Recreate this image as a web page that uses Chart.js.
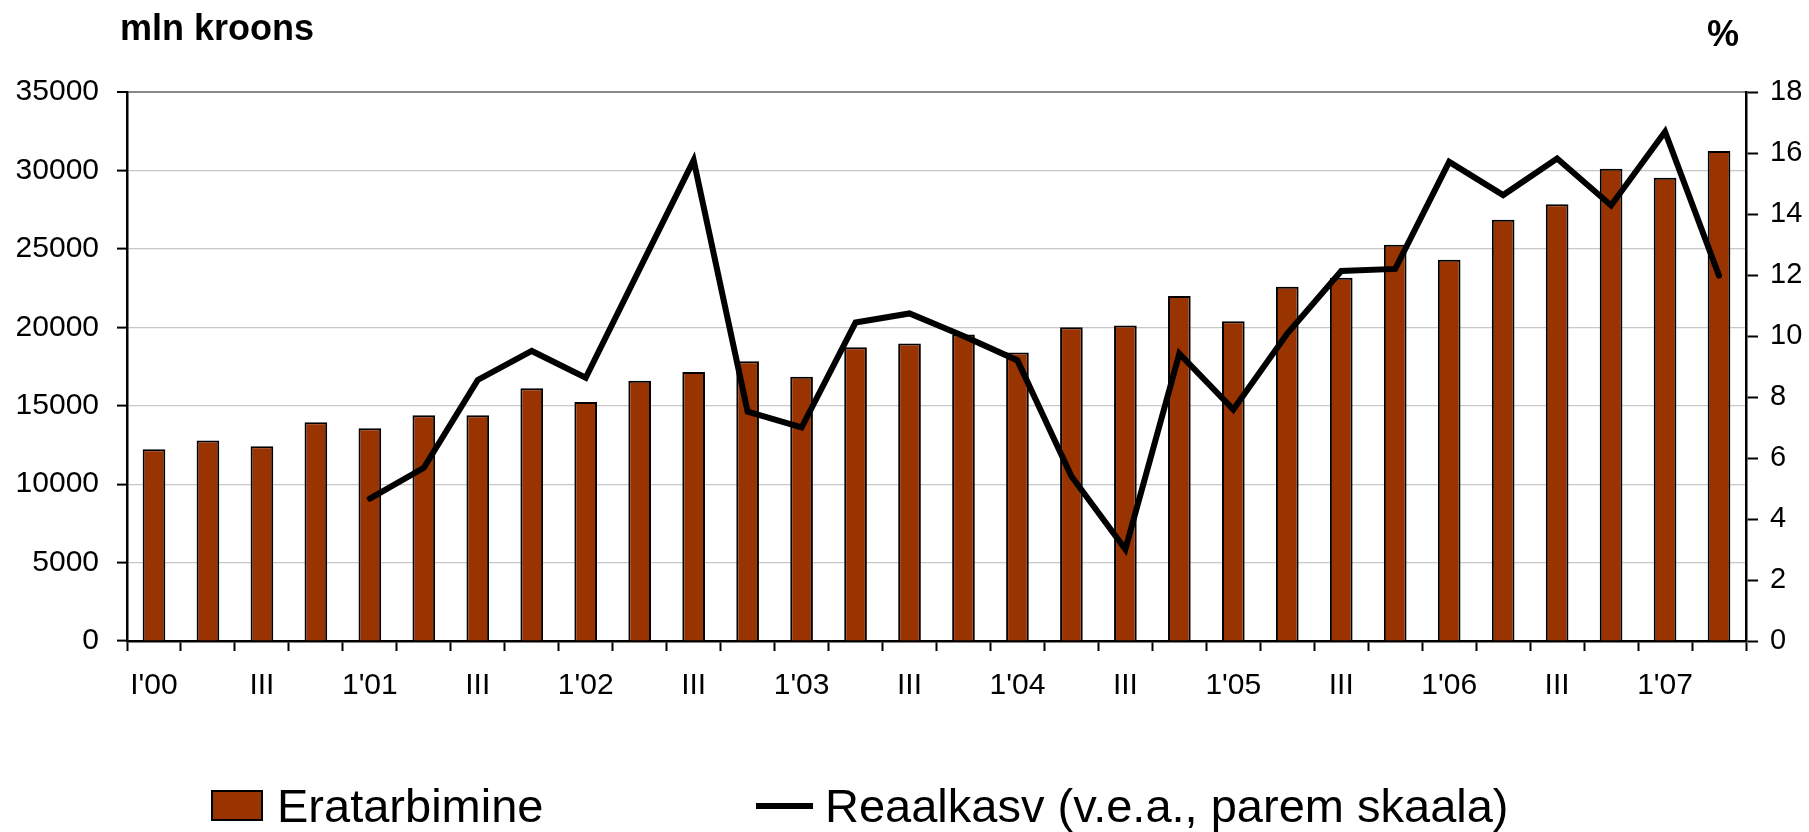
<!DOCTYPE html>
<html>
<head>
<meta charset="utf-8">
<script src="https://cdn.jsdelivr.net/npm/chart.js@4.4.1/dist/chart.umd.min.js"></script>
<style>
  body { margin: 0; background: #fff; font-family: "Liberation Sans", Arial, sans-serif; }
  #wrap { position: relative; width: 1809px; height: 832px; }
  canvas { position: absolute; left: 0; top: 0; }
  .unit { position: absolute; font-weight: bold; color: #000; line-height: 1; font-size: 36px; }
  #unitLeft { left: 120px; top: 10px; }
  #unitRight { left: 1707px; top: 16px; }
  .leg { position: absolute; top: 782px; height: 47px; display: flex; align-items: center;
         font-size: 47px; line-height: 1; color: #000; white-space: nowrap; }
  .sw-bar { width: 48px; height: 27px; background: #993300; border: 2px solid #000; margin-right: 14px; }
  .sw-line { width: 57px; height: 6px; background: #000; margin-right: 12px; }
</style>
</head>
<body>
<div id="wrap">
  <canvas id="chart" width="1809" height="832"></canvas>
  <div class="unit" id="unitLeft">mln kroons</div>
  <div class="unit" id="unitRight">%</div>
  <div class="leg" id="leg0" style="left:211px"><span class="sw-bar"></span><span id="legText0"></span></div>
  <div class="leg" id="leg1" style="left:756px"><span class="sw-line"></span><span id="legText1"></span></div>
</div>
<script>
// quarters 2000 Q1 .. 2007 Q2
const quarters = [
  '2000Q1', '2000Q2', '2000Q3', '2000Q4',
  '2001Q1', '2001Q2', '2001Q3', '2001Q4',
  '2002Q1', '2002Q2', '2002Q3', '2002Q4',
  '2003Q1', '2003Q2', '2003Q3', '2003Q4',
  '2004Q1', '2004Q2', '2004Q3', '2004Q4',
  '2005Q1', '2005Q2', '2005Q3', '2005Q4',
  '2006Q1', '2006Q2', '2006Q3', '2006Q4',
  '2007Q1', '2007Q2'
];
// every second quarter gets a label
const xTickLabels = ["I'00", 'III', "1'01", 'III', "1'02", 'III', "1'03", 'III',
                     "1'04", 'III', "1'05", 'III', "1'06", 'III', "1'07"];

const consumption = [
  12220, 12790, 12410, 13940, 13560, 14390, 14390, 16110,
  15230, 16590, 17150, 17830, 16840, 18720, 18970, 19540,
  18400, 20000, 20110, 21990, 20390, 22590, 23160, 25260,
  24300, 26860, 27850, 30100, 29530, 31240
];
const realGrowth = [
  null, null, null, null, 4.67, 5.68, 8.56, 9.51,
  8.63, 12.2, 15.76, 7.52, 7.0, 10.44, 10.74, 10.0,
  9.2, 5.4, 3.01, 9.42, 7.59, 10.08, 12.13, 12.2,
  15.71, 14.62, 15.82, 14.28, 16.7, 11.98
];
const seriesNames = ['Eratarbimine', 'Reaalkasv (v.e.a., parem skaala)'];

const leftMax = 35000, leftStep = 5000;
const rightMax = 18, rightStep = 2;

Chart.defaults.font.family = '"Liberation Sans", Arial, sans-serif';
Chart.defaults.color = '#000';

const ctx = document.getElementById('chart').getContext('2d');

new Chart(ctx, {
  type: 'bar',
  data: {
    labels: quarters,
    datasets: [{
      type: 'line',
      label: seriesNames[1],
      data: realGrowth,
      yAxisID: 'y1',
      borderColor: '#000',
      borderWidth: 6,
      borderCapStyle: 'round',
      pointRadius: 0,
      tension: 0,
      order: 0
    }, {
      type: 'bar',
      label: seriesNames[0],
      data: consumption,
      yAxisID: 'y',
      backgroundColor: '#993300',
      borderColor: '#000',
      borderWidth: 2,
      barPercentage: 0.42,
      categoryPercentage: 1,
      order: 1
    }]
  },
  options: {
    responsive: false,
    animation: false,
    devicePixelRatio: 1,
    layout: { padding: { top: 92, bottom: 131, left: 0, right: 0 } },
    plugins: {
      legend: { display: false },
      tooltip: { enabled: false }
    },
    scales: {
      x: {
        grid: { drawOnChartArea: false, drawTicks: true, tickLength: 10, tickColor: '#000', tickWidth: 2 },
        border: { color: '#000', width: 2.5 },
        ticks: {
          autoSkip: false,
          maxRotation: 0,
          padding: 17,
          font: { size: 30 },
          callback: function (value, index) {
            return index % 2 === 0 ? xTickLabels[index / 2] : '';
          }
        },
        afterFit: function (scale) { scale.height = 60; }
      },
      y: {
        position: 'left',
        min: 0,
        max: leftMax,
        grid: {
          color: function (c) { return c.tick && c.tick.value === leftMax ? '#888' : '#c8c8c8'; },
          lineWidth: function (c) { return c.tick && c.tick.value === leftMax ? 2 : 1.2; },
          tickLength: 10,
          tickColor: '#000',
          tickWidth: 2
        },
        border: { color: '#000', width: 2.5 },
        ticks: {
          stepSize: leftStep,
          padding: 18,
          font: { size: 30 },
          callback: function (value) { return String(value); }
        },
        afterFit: function (scale) { scale.width = 127; }
      },
      y1: {
        position: 'right',
        min: 0,
        max: rightMax,
        grid: { drawOnChartArea: false, tickLength: 12, tickColor: '#000', tickWidth: 2 },
        border: { color: '#000', width: 2.5 },
        ticks: { stepSize: rightStep, padding: 12, font: { size: 29 } },
        afterFit: function (scale) { scale.width = 63; }
      }
    }
  }
});

document.getElementById('legText0').textContent = seriesNames[0];
document.getElementById('legText1').textContent = seriesNames[1];
</script>
</body>
</html>
